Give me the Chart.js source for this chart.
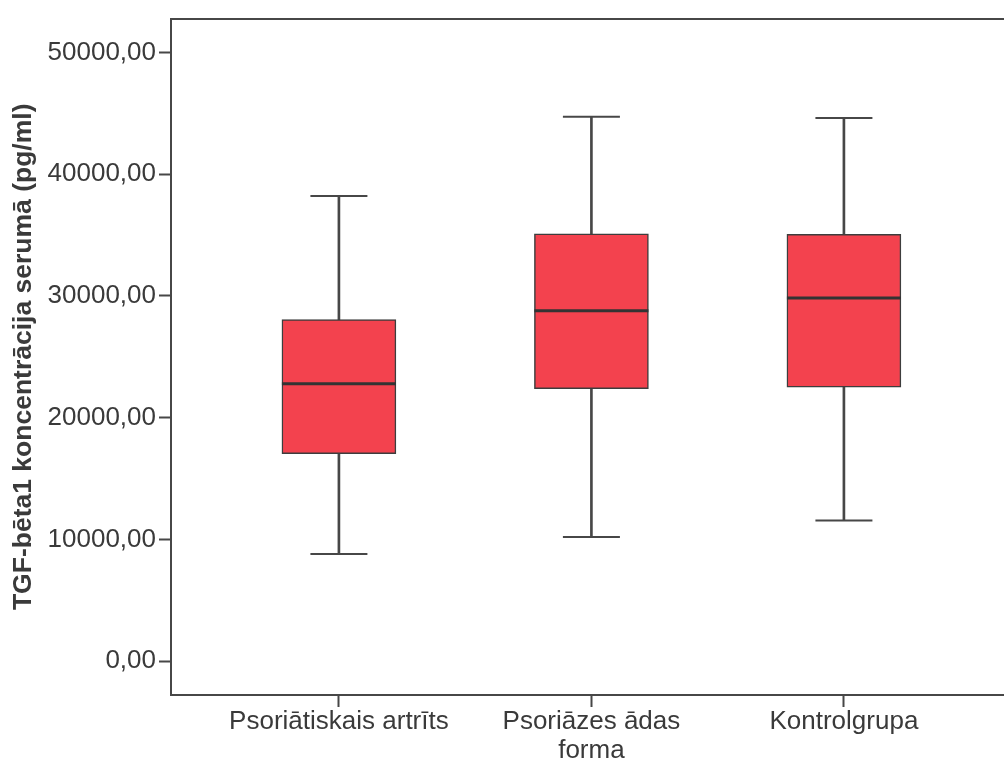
<!DOCTYPE html>
<html>
<head>
<meta charset="utf-8">
<script src="https://cdn.jsdelivr.net/npm/chart.js@4/dist/chart.umd.min.js"></script>
<style>
  html, body { margin: 0; padding: 0; background: #ffffff; }
  #wrap { width: 1004px; height: 762px; }
</style>
</head>
<body>
<div id="wrap"><canvas id="c"></canvas></div>
<script>
// Groups and their box-plot statistics (pg/ml)
const categories = [["Psoriātiskais artrīts"], ["Psoriāzes ādas", "forma"], ["Kontrolgrupa"]];
const positions = [1, 2, 3];
const whiskerLow = [8800, 10200, 11550];
const quartile1 = [17050, 22390, 22500];
const median = [22790, 28780, 29820];
const quartile3 = [28050, 35100, 35050];
const whiskerHigh = [38210, 44710, 44610];
const yTicks = [0, 10000, 20000, 30000, 40000, 50000];
const yTitle = "TGF-bēta1 koncentrācija serumā (pg/ml)";

const ink = "#474747";
const boxFill = "#f3424e";
const fontFamily = "'Liberation Sans', Arial, sans-serif";

const points = vals => positions.map((x, i) => ({ x, y: vals[i] }));

new Chart(document.getElementById("c"), {
  type: "bar",
  data: {
    datasets: [
      { // medians
        type: "scatter",
        data: points(median),
        pointStyle: "line",
        pointRadius: 57,
        pointHoverRadius: 57,
        pointBorderWidth: 3,
        pointBorderColor: "#333333",
        order: 0
      },
      { // whisker caps
        type: "scatter",
        data: points(whiskerLow).concat(points(whiskerHigh)),
        pointStyle: "line",
        pointRadius: 28.5,
        pointHoverRadius: 28.5,
        pointBorderWidth: 2,
        pointBorderColor: ink,
        order: 1
      },
      { // interquartile boxes
        type: "bar",
        data: positions.map((x, i) => ({ x, y: [quartile1[i], quartile3[i]] })),
        backgroundColor: boxFill,
        borderColor: "#3d3d3d",
        borderWidth: 1.5,
        borderSkipped: false,
        barThickness: 114,
        grouped: false,
        order: 2
      },
      { // whisker stems
        type: "bar",
        data: positions.map((x, i) => ({ x, y: [whiskerLow[i], whiskerHigh[i]] })),
        backgroundColor: ink,
        borderWidth: 0,
        barThickness: 2,
        grouped: false,
        order: 3
      }
    ]
  },
  options: {
    responsive: true,
    maintainAspectRatio: false,
    animation: false,
    layout: { padding: 0, autoPadding: false },
    plugins: { legend: { display: false }, tooltip: { enabled: false } },
    scales: {
      x: {
        type: "linear",
        position: "bottom",
        offset: false,
        min: 0.335,
        max: 3.634,
        afterBuildTicks: s => { s.ticks = positions.map(v => ({ value: v })); },
        afterFit: s => { s.height = 67; },
        ticks: {
          callback: v => categories[positions.indexOf(v)],
          font: { family: fontFamily, size: 26, lineHeight: 1.1 },
          color: "#3a3a3a",
          padding: 1,
          maxRotation: 0,
          autoSkip: false
        },
        grid: { display: true, offset: false, drawOnChartArea: false, drawTicks: true, tickLength: 12, tickColor: ink, tickWidth: 2 },
        border: { display: true, color: ink, width: 2 }
      },
      xTop: {
        type: "linear",
        position: "top",
        offset: false,
        min: 0,
        max: 1,
        afterFit: s => { s.height = 15; },
        ticks: { display: false },
        grid: { display: false, drawTicks: false },
        border: { display: true, color: ink, width: 2 }
      },
      y: {
        type: "linear",
        min: -2780,
        max: 52780,
        afterBuildTicks: s => { s.ticks = yTicks.map(v => ({ value: v })); },
        afterFit: s => { s.width = 171; },
        ticks: {
          callback: v => v.toFixed(2).replace(".", ","),
          font: { family: fontFamily, size: 26 },
          color: "#3a3a3a",
          padding: 3
        },
        grid: { display: true, drawOnChartArea: false, drawTicks: true, tickLength: 12, tickColor: ink, tickWidth: 2 },
        border: { display: true, color: ink, width: 2 },
        title: {
          display: true,
          text: yTitle,
          color: "#3a3a3a",
          font: { family: fontFamily, size: 26.5, weight: "bold" },
          padding: { top: 8, bottom: 0 }
        }
      }
    }
  }
});
</script>
</body>
</html>
